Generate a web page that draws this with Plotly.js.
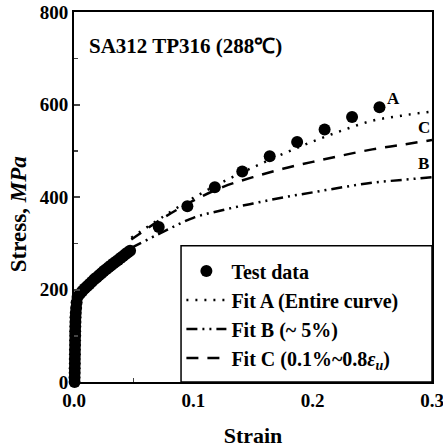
<!DOCTYPE html>
<html>
<head>
<meta charset="utf-8">
<script src="https://cdn.plot.ly/plotly-3.0.1.min.js"></script>
<style>body{margin:0;background:#fff}#chart{width:443px;height:448px}</style>
</head>
<body>
<div id="chart"></div>
<script>
// Test data: elastic part (near-vertical) and early plastic part
const testStrainElastic = [0.0005,0.0005,0.0006,0.0006,0.0007,0.0007,0.0008,0.0008,0.0009,0.0009,0.001,0.001,0.0011,0.0012,0.0013,0.0015,0.0018,0.0022];
const testStressElastic = [0,10,20,30,40,50,60,70,80,90,100,110,120,130,140,150,160,172];
const testStrainPlastic = [0.003,0.005,0.007,0.009,0.011,0.013,0.015,0.017,0.019,0.021,0.023,0.025,0.027,0.029,0.031,0.033,0.035,0.037,0.039,0.041,0.043,0.045,0.047];
const testStressPlastic = [184,191,197,202,207,212,217,222,226,231,235,240,244,248,252,256,260,264,268,272,276,280,284];
const testStrainLate = [0.071,0.095,0.118,0.141,0.164,0.187,0.210,0.233,0.256];
const testStressLate = [335,380,421,455,488,519,546,573,594];

// Fit curves
const fitStrain = [0.048,0.075,0.1,0.125,0.15,0.175,0.2,0.225,0.25,0.275,0.3];
const fitAStress = [312,358,398,433,464,493,520,544,565,576,585];
const fitBStress = [290,325,355,372,386,399,410,421,431,437,443];
const fitCStress = [308,355,392,422,443,461,476,490,503,513,523];

const ticksX = [0,0.1,0.2,0.3];
const ticksY = [0,200,400,600,800];

const serif = 'Liberation Serif, Times New Roman, serif';
const testStrain = testStrainElastic.concat(testStrainPlastic, testStrainLate);
const testStress = testStressElastic.concat(testStressPlastic, testStressLate);

const traces = [
  {x: testStrain, y: testStress, mode:'markers', name:'<b>Test data</b>',
   marker:{color:'#000', size:12}, cliponaxis:false},
  {x: fitStrain, y: fitAStress, mode:'lines', name:'<b>Fit A (Entire curve)</b>',
   line:{color:'#000', width:2.5, dash:'2px,7px', shape:'spline'}},
  {x: fitStrain, y: fitBStress, mode:'lines', name:'<b>Fit B (~ 5%)</b>',
   line:{color:'#000', width:2.5, dash:'11px,5px,2px,5px,2px,5px', shape:'spline'}},
  {x: fitStrain, y: fitCStress, mode:'lines', name:'<b>Fit C (0.1%~0.8<i>ε<sub>u</sub></i>)</b>',
   line:{color:'#000', width:2.5, dash:'12px,9px', shape:'spline'}}
];

const layout = {
  width:443, height:448,
  margin:{l:74, r:11, t:12, b:66},
  paper_bgcolor:'#fff', plot_bgcolor:'#fff',
  font:{family:serif, color:'#000', size:16},
  showlegend:true,
  legend:{x:0.3, y:0.012, xanchor:'left', yanchor:'bottom',
    borderwidth:0, bgcolor:'rgba(0,0,0,0)',
    font:{family:serif, size:20, color:'#000'}, itemwidth:40, tracegroupgap:0},
  shapes:[
    {type:'rect', xref:'paper', yref:'paper', x0:0.299, x1:1, y0:0, y1:0.368,
     line:{color:'#000', width:1.5}, fillcolor:'#fff', layer:'above'}
  ],
  xaxis:{range:[0,0.3], tickvals:ticksX, ticktext:ticksX.map(v=>'<b>'+v.toFixed(1)+'</b>'),
    ticks:'inside', ticklen:6, tickwidth:2, showline:true, linewidth:2, linecolor:'#000', mirror:true,
    showgrid:false, zeroline:false, ticklabeloverflow:'allow',
    minor:{ticks:'inside', ticklen:4, tickwidth:1.5, dtick:0.05, showgrid:false},
    title:{text:'<b>Strain</b>', font:{family:serif, size:22}, standoff:20},
    tickfont:{family:serif, size:19}},
  yaxis:{range:[0,800], tickvals:ticksY, ticktext:ticksY.map(v=>'<b>'+v+'</b>'),
    ticks:'inside', ticklen:6, tickwidth:2, showline:true, linewidth:2, linecolor:'#000', mirror:true,
    showgrid:false, zeroline:false, ticklabeloverflow:'allow',
    minor:{ticks:'inside', ticklen:4, tickwidth:1.5, dtick:100, showgrid:false},
    tickfont:{family:serif, size:19}},
  annotations:[
    {xref:'paper', yref:'paper', x:-0.156, y:0.454, xanchor:'center', yanchor:'middle', showarrow:false,
     textangle:-90, text:'<b>Stress, <i>MPa</i></b>', font:{family:serif, size:23}},
    {xref:'paper', yref:'paper', x:0.036, y:0.908, xanchor:'left', yanchor:'middle', showarrow:false,
     text:'<b>SA312 TP316 (288℃)</b>', font:{family:serif, size:21}},
    {xref:'x', yref:'y', x:0.268, y:612, showarrow:false, text:'<b>A</b>', font:{family:serif, size:17}},
    {xref:'x', yref:'y', x:0.293, y:550, showarrow:false, text:'<b>C</b>', font:{family:serif, size:17}},
    {xref:'x', yref:'y', x:0.293, y:472, showarrow:false, text:'<b>B</b>', font:{family:serif, size:17}}
  ]
};

Plotly.newPlot('chart', traces, layout, {displayModeBar:false, staticPlot:true});
</script>
</body>
</html>
